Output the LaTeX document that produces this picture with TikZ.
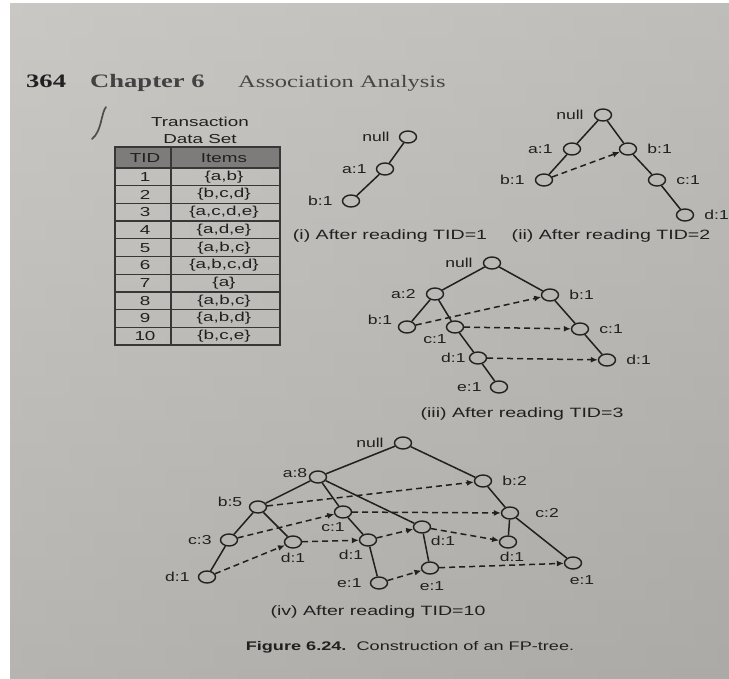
\documentclass[tikz,border=0pt]{standalone}
\usepackage{fontspec}
\setmainfont{Liberation Sans}
\newfontfamily\labf{Liberation Sans}[FakeStretch=1.35]
\newfontfamily\capf{Liberation Sans}[FakeStretch=1.45]
\newfontfamily\hdrf{Liberation Serif}[FakeStretch=1.4]
\usetikzlibrary{shapes.geometric,arrows.meta,positioning}
\definecolor{ink}{RGB}{32,32,32}
\definecolor{pgtop}{RGB}{202,200,197}
\definecolor{pgbot}{RGB}{172,170,167}
\definecolor{hdrgray}{RGB}{126,124,122}
\definecolor{tline}{RGB}{55,55,55}
\definecolor{midgray}{RGB}{70,70,70}
\begin{document}
\begin{tikzpicture}[x=1pt,y=-1pt,
  nd/.style={ellipse,draw=ink,line width=1.4pt,minimum width=17pt,minimum height=12pt,inner sep=0pt},
  lab/.style={font=\labf\fontsize{13}{15}\selectfont,text=ink,inner sep=0pt},
  capt/.style={font=\capf\fontsize{13.5}{16}\selectfont,text=ink,inner sep=0pt},
  tbl/.style={font=\capf\fontsize{13}{15}\selectfont,text=ink,inner sep=0pt},
  ed/.style={line width=1.5pt,draw=ink},
  ptr/.style={line width=1.5pt,draw=ink,dash pattern=on 6pt off 4pt,-{Latex[length=7pt,width=6pt]}},
  tln/.style={line width=1.3pt,draw=tline}]
\useasboundingbox (0,0) rectangle (729,679);
% page
\fill[white] (0,0) rectangle (729,679);
\shade[top color=pgtop,bottom color=pgbot] (10,4) rectangle (729,679);
\shade[left color=pgtop,right color=pgbot,opacity=0.35] (10,4) rectangle (729,679);
% header
\node[font=\hdrf\bfseries\fontsize{19}{21}\selectfont,text=ink,anchor=base west,inner sep=0pt] (pg) at (26,88) {364};
\node[font=\hdrf\bfseries\fontsize{19}{21}\selectfont,text=ink!85,anchor=base west,inner sep=0pt] (ch) at (90,88) {Chapter 6};
\node[font=\hdrf\fontsize{17.5}{20}\selectfont,text=midgray,anchor=base west,inner sep=0pt] (as) at (238,88) {Association Analysis};
% handwritten mark
\draw[line width=1.7pt,draw=ink!80,line cap=round] (106,107) .. controls (101,113) and (102,131) .. (92,139);
% table
\node[tbl] (tt1) at (200,122) {Transaction};
\node[tbl] (tt2) at (200,139) {Data Set};
\fill[hdrgray] (115,147) rectangle (280,168);
\foreach \k in {0,...,10} {\draw[tln] (115,168+17.7*\k) -- (280,168+17.7*\k);}
\draw[tln] (115,147) rectangle (280,345);
\draw[tln] (171,147) -- (171,345);
\node[tbl] (th1) at (145,158) {TID};
\node[tbl] (th2) at (224,158) {Items};
\foreach \i/\s in {1/{\{a,b\}},2/{\{b,c,d\}},3/{\{a,c,d,e\}},4/{\{a,d,e\}},5/{\{a,b,c\}},6/{\{a,b,c,d\}},7/{\{a\}},8/{\{a,b,c\}},9/{\{a,b,d\}},10/{\{b,c,e\}}} {
  \node[tbl] (tid\i) at (145,168+17.7*\i-8.85) {\i};
  \node[tbl] (itm\i) at (224,168+17.7*\i-8.85) {\s};
}
% ---------- tree (i)
\node[nd] (i0) at (408,137) {};
\node[nd] (i1) at (385,169) {};
\node[nd] (i2) at (351,201) {};
\node[lab,left=9pt of i0] (li0) {null};
\node[lab,left=9pt of i1] (li1) {a:1};
\node[lab,left=9pt of i2] (li2) {b:1};
\draw[ed] (i0) -- (i1);
\draw[ed] (i1) -- (i2);
\node[capt] (ci) at (390,236) {(i) After reading TID=1};
% ---------- tree (ii)
\node[nd] (ii0) at (603,115) {};
\node[nd] (iia) at (572,149) {};
\node[nd] (iib) at (628,149) {};
\node[nd] (iibl) at (544,180) {};
\node[nd] (iic) at (657,180) {};
\node[nd] (iid) at (685,215) {};
\node[lab,left=10pt of ii0] (lii0) {null};
\node[lab,left=10pt of iia] (liia) {a:1};
\node[lab,right=10pt of iib] (liib) {b:1};
\node[lab,left=10pt of iibl] (liibl) {b:1};
\node[lab,right=10pt of iic] (liic) {c:1};
\node[lab,right=10pt of iid] (liid) {d:1};
\draw[ed] (ii0) -- (iia);
\draw[ed] (ii0) -- (iib);
\draw[ed] (iia) -- (iibl);
\draw[ed] (iib) -- (iic);
\draw[ed] (iic) -- (iid);
\draw[ptr] (iibl) -- (iib);
\node[capt] (cii) at (611,236) {(ii) After reading TID=2};
% ---------- tree (iii)
\node[nd] (t0) at (492,263) {};
\node[nd] (ta) at (435,294) {};
\node[nd] (tb) at (550,295) {};
\node[nd] (tbl) at (407,327) {};
\node[nd] (tc) at (455,327) {};
\node[nd] (tcr) at (580,329) {};
\node[nd] (td) at (478,358) {};
\node[nd] (tdr) at (607,360) {};
\node[nd] (te) at (499,387) {};
\node[lab,left=10pt of t0] (lt0) {null};
\node[lab,left=10pt of ta] (lta) {a:2};
\node[lab,right=10pt of tb] (ltb) {b:1};
\node[lab] (ltbl) at (380,320) {b:1};
\node[lab] (ltc) at (435,339) {c:1};
\node[lab,right=10pt of tcr] (ltcr) {c:1};
\node[lab,left=3pt of td] (ltd) {d:1};
\node[lab,right=10pt of tdr] (ltdr) {d:1};
\node[lab,left=8pt of te] (lte) {e:1};
\draw[ed] (t0) -- (ta);
\draw[ed] (t0) -- (tb);
\draw[ed] (ta) -- (tbl);
\draw[ed] (ta) -- (tc);
\draw[ed] (tc) -- (td);
\draw[ed] (td) -- (te);
\draw[ed] (tb) -- (tcr);
\draw[ed] (tcr) -- (tdr);
\draw[ptr] (tbl) -- (tb);
\draw[ptr] (tc) -- (tcr);
\draw[ptr] (td) -- (tdr);
\node[capt] (ciii) at (522,414) {(iii) After reading TID=3};
% ---------- tree (iv)
\node[nd] (f0) at (403,443) {};
\node[nd] (fa) at (318,477) {};
\node[nd] (fb) at (483,481) {};
\node[nd] (fb5) at (258,507) {};
\node[nd] (fc1) at (343,512) {};
\node[nd] (fc2) at (510,513) {};
\node[nd] (fc3) at (229,540) {};
\node[nd] (fd1a) at (293,542) {};
\node[nd] (fd1b) at (368,540) {};
\node[nd] (fd1c) at (422,527) {};
\node[nd] (fd1d) at (508,542) {};
\node[nd] (fd1e) at (207,577) {};
\node[nd] (fe1a) at (379,583) {};
\node[nd] (fe1b) at (430,568) {};
\node[nd] (fe1c) at (573,563) {};
\node[lab,left=10pt of f0] (lf0) {null};
\node[lab] (lfa) at (295,473) {a:8};
\node[lab,right=10pt of fb] (lfb) {b:2};
\node[lab] (lfb5) at (230,502) {b:5};
\node[lab] (lfc1) at (333,527) {c:1};
\node[lab,right=16pt of fc2] (lfc2) {c:2};
\node[lab,left=8pt of fc3] (lfc3) {c:3};
\node[lab] (lfd1a) at (293,558) {d:1};
\node[lab] (lfd1b) at (351,555) {d:1};
\node[lab] (lfd1c) at (443,541) {d:1};
\node[lab] (lfd1d) at (512,557) {d:1};
\node[lab,left=8pt of fd1e] (lfd1e) {d:1};
\node[lab,left=8pt of fe1a] (lfe1a) {e:1};
\node[lab] (lfe1b) at (432,586) {e:1};
\node[lab] (lfe1c) at (582,580) {e:1};
\draw[ed] (f0) -- (fa);
\draw[ed] (f0) -- (fb);
\draw[ed] (fa) -- (fb5);
\draw[ed] (fa) -- (fc1);
\draw[ed] (fa) -- (fd1c);
\draw[ed] (fb5) -- (fc3);
\draw[ed] (fb5) -- (fd1a);
\draw[ed] (fc3) -- (fd1e);
\draw[ed] (fc1) -- (fd1b);
\draw[ed] (fd1b) -- (fe1a);
\draw[ed] (fd1c) -- (fe1b);
\draw[ed] (fb) -- (fc2);
\draw[ed] (fc2) -- (fd1d);
\draw[ed] (fc2) -- (fe1c);
\draw[ptr] (fb5) -- (fb);
\draw[ptr] (fc3) -- (fc1);
\draw[ptr] (fc1) -- (fc2);
\draw[ptr] (fd1e) -- (fd1a);
\draw[ptr] (fd1a) -- (fd1b);
\draw[ptr] (fd1b) -- (fd1c);
\draw[ptr] (fd1c) -- (fd1d);
\draw[ptr] (fe1a) -- (fe1b);
\draw[ptr] (fe1b) -- (fe1c);
\node[capt] (civ) at (378,612) {(iv) After reading TID=10};
\node[font=\capf\fontsize{12.5}{15}\selectfont,text=ink,inner sep=0pt] (fig) at (410,647) {\textbf{Figure 6.24.}\ \ Construction of an FP-tree.};
\end{tikzpicture}
\end{document}
